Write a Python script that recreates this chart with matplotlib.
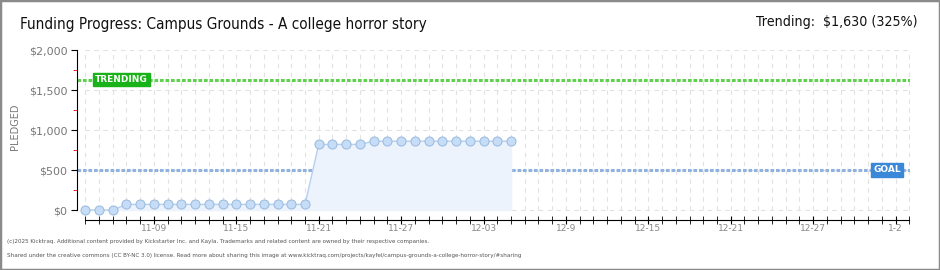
import matplotlib.pyplot as plt
from matplotlib.patches import Rectangle

# Data: pledged dollars per day, starting 11-04
days = list(range(32))
pledged = [0, 0, 0] + [70] * 14 + [820] * 4 + [860] * 11
goal = 500
trending = 1630
tick_days = [5, 11, 17, 23, 29, 35, 41, 47, 53, 59]
tick_labels = ['11-09', '11-15', '11-21', '11-27', '12-03', '12-9', '12-15', '12-21', '12-27', '1-2']
y_ticks = [0, 500, 1000, 1500, 2000]
y_labels = ['$0', '$500', '$1,000', '$1,500', '$2,000']

plt.rcParams['font.family'] = ['DejaVu Sans']

fig = plt.figure(figsize=(9.4, 2.7), dpi=100)
fig.patches.append(Rectangle((0, 0), 1, 1, transform=fig.transFigure, fill=False,
                             edgecolor='#8a8a8a', linewidth=2.5))

ax = fig.add_axes([77 / 940, 1 - 220 / 270, (910 - 77) / 940, 170 / 270])
ax.set_xlim(-0.6, 60.05)
ax.set_ylim(-125, 2000)

# grid
for d in range(0, 61):
    ax.plot([d, d], [0, 2000], color='#e2e2e2', lw=0.8, ls=(0, (4, 4)), zorder=0)
for v in y_ticks:
    ax.plot([0, 60], [v, v], color='#e2e2e2', lw=0.8, ls=(0, (4, 4)), zorder=0)

# reference lines
ax.plot([-0.6, 60.05], [trending, trending], color='#5fd14f', lw=2.2, ls=(0, (1.2, 0.6)), zorder=1)
ax.plot([-0.6, 60.05], [goal, goal], color='#8fb3de', lw=2.2, ls=(0, (1.2, 0.6)), zorder=1)

# data
ax.fill_between(days, pledged, 0, color='#ecf3fd', zorder=2)
ax.plot(days, pledged, color='#b5d0f0', lw=1, zorder=3)
ax.plot(days, pledged, ls='none', marker='o', ms=6.5, mfc='#c6ddf7', mec='#9fbde0', mew=0.8, zorder=4)

# labels on reference lines
ax.text(0.7, trending, 'TRENDING', color='white', fontsize=6.5, fontweight='bold',
        va='center', ha='left', zorder=5,
        bbox=dict(boxstyle='square,pad=0.25', fc='#19b319', ec='#19b319'))
ax.text(57.4, goal, 'GOAL', color='white', fontsize=6.5, fontweight='bold',
        va='center', ha='left', zorder=5,
        bbox=dict(boxstyle='square,pad=0.25', fc='#3b88d8', ec='#3b88d8'))

# spines and ticks
for s in ['top', 'right']:
    ax.spines[s].set_visible(False)
ax.spines['left'].set_bounds(0, 2000)
ax.spines['bottom'].set_bounds(0, 60)
ax.set_yticks(y_ticks)
ax.set_yticklabels(y_labels)
ax.set_yticks([250, 750, 1250, 1750], minor=True)
ax.tick_params(axis='y', which='major', length=4, color='black', labelsize=8, labelcolor='#777777', pad=3)
ax.tick_params(axis='y', which='minor', length=3, color='red')
ax.set_xticks(tick_days)
ax.set_xticklabels(tick_labels)
ax.set_xticks(range(0, 61), minor=True)
ax.tick_params(axis='x', which='both', direction='inout', length=6, color='black',
               labelsize=6.5, labelcolor='#888888', pad=0)
ax.set_ylabel('PLEDGED', fontsize=7, color='#777777')
ax.yaxis.set_label_coords(-0.068, 0.55)

# header and footer
fig.text(20 / 940, 1 - 24 / 270, 'Funding Progress: Campus Grounds - A college horror story',
         fontsize=11, va='center', ha='left', color='#111111', stretch='condensed')
fig.text(918 / 940, 1 - 22 / 270, 'Trending:  $1,630 (325%)',
         fontsize=10.2, va='center', ha='right', color='#111111', stretch='condensed')
fig.text(7 / 940, 1 - 242 / 270,
         '(c)2025 Kicktraq. Additional content provided by Kickstarter Inc. and Kayla. '
         'Trademarks and related content are owned by their respective companies.',
         fontsize=4.5, va='center', ha='left', color='#555555', stretch='condensed')
fig.text(7 / 940, 1 - 256 / 270,
         'Shared under the creative commons (CC BY-NC 3.0) license. Read more about sharing this image at '
         'www.kicktraq.com/projects/kayfel/campus-grounds-a-college-horror-story/#sharing',
         fontsize=4.5, va='center', ha='left', color='#555555', stretch='condensed')

fig.savefig('out.png', dpi=100)
